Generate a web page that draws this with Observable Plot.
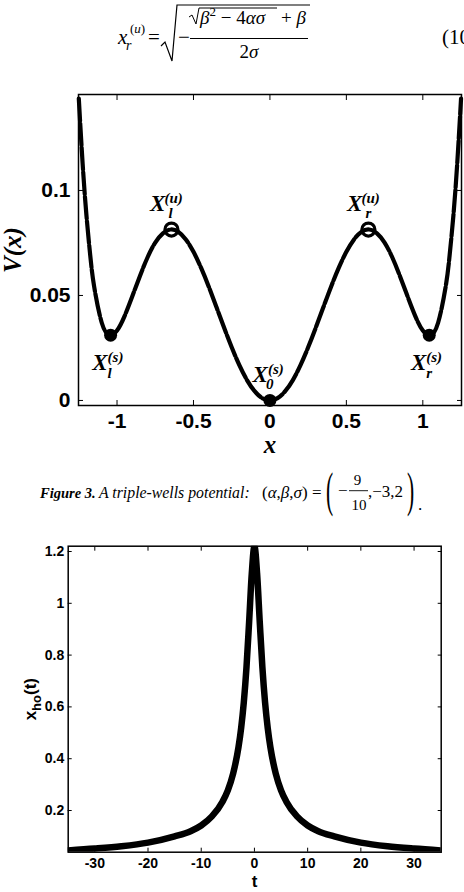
<!DOCTYPE html>
<html><head><meta charset="utf-8">
<script src="https://cdn.jsdelivr.net/npm/d3@7"></script>
<script src="https://cdn.jsdelivr.net/npm/@observablehq/plot@0.6"></script>
<style>
html,body{margin:0;padding:0;background:#fff;}
body{width:464px;height:892px;overflow:hidden;position:relative;}
.abs{position:absolute;left:0;}
#eq{top:0}
#c1{top:80px}
#cap{top:460px}
#c2{top:530px}
</style></head><body>
<svg id="eq" class="abs" width="464" height="70" font-family="'Liberation Serif','Times New Roman',serif" fill="#000">
  <text x="118" y="44" font-size="21" font-style="italic">x</text>
  <text x="130" y="33" font-size="13">(<tspan font-style="italic">u</tspan>)</text>
  <text x="126" y="50" font-size="14" font-style="italic">r</text>
  <text x="148" y="44" font-size="21">=</text>
  <path d="M161,46 L165,42 L172,61 L177,5 L310,5" fill="none" stroke="#000" stroke-width="1.2"/>
  <text x="178" y="44" font-size="21">−</text>
  <path d="M189,17 L192,15 L196,24 L199,8 L277,8" fill="none" stroke="#000" stroke-width="1"/>
  <text x="200" y="24" font-size="19"><tspan font-style="italic">β</tspan><tspan dy="-8" font-size="13">2</tspan><tspan dy="8"> − 4</tspan><tspan font-style="italic">ασ</tspan></text>
  <text x="281" y="24" font-size="19">+ <tspan font-style="italic">β</tspan></text>
  <line x1="190" x2="308" y1="38.5" y2="38.5" stroke="#000" stroke-width="1"/>
  <text x="249" y="58" font-size="19" text-anchor="middle">2<tspan font-style="italic">σ</tspan></text>
  <text x="442" y="44" font-size="21">(10</text>
</svg>
<div id="c1" class="abs"></div>
<svg id="cap" class="abs" width="464" height="68" font-family="'Liberation Serif','Times New Roman',serif" fill="#000">
  <text x="40" y="38" font-size="14.5" font-weight="bold" font-style="italic">Figure 3.</text>
  <text x="99" y="38" font-size="15.8" font-style="italic">A triple-wells potential:</text>
  <text x="262" y="38" font-size="17">(<tspan font-style="italic">α</tspan>,<tspan font-style="italic">β</tspan>,<tspan font-style="italic">σ</tspan>)</text>
  <text x="312" y="38" font-size="17">=</text>
  <text transform="translate(326,46) scale(0.45,1)" font-size="48">(</text>
  <text x="338" y="36" font-size="17">−</text>
  <text x="357.5" y="25" font-size="15" text-anchor="middle">9</text>
  <line x1="349" x2="368" y1="30.7" y2="30.7" stroke="#000" stroke-width="0.9"/>
  <text x="359" y="50" font-size="15" text-anchor="middle">10</text>
  <text x="368" y="37" font-size="17">,−3,2</text>
  <text transform="translate(407,46) scale(0.45,1)" font-size="48">)</text>
  <text x="418" y="50" font-size="17">.</text>
</svg>
<div id="c2" class="abs"></div>
<script>
// ---------- Figure 3 data: triple-well potential V(x) ----------
const xPos = [-1.25,-1.225,-1.2,-1.175,-1.15,-1.1,-1.05,-1,-0.95,-0.9,-0.85,-0.8,-0.75,-0.7,-0.65,-0.6,-0.55,-0.5,-0.45,-0.4,-0.35,-0.3,-0.25,-0.2,-0.15,-0.1,-0.05,0,
  0.05,0.1,0.15,0.2,0.25,0.3,0.35,0.4,0.45,0.5,0.55,0.6,0.65,0.7,0.75,0.8,0.85,0.9,0.95,1,1.05,1.1,1.15,1.175,1.2,1.225,1.25];
const vVals = [0.1437,0.1128,0.0881,0.0689,0.0544,0.0370,0.0312,0.0333,0.0403,0.0496,0.0593,0.0682,0.0752,0.0796,0.0814,0.0804,0.0767,0.0708,0.0631,0.0542,0.0445,0.0347,0.0253,0.0168,0.0097,0.0044,0.0011,0,
  0.0011,0.0044,0.0097,0.0168,0.0253,0.0347,0.0445,0.0542,0.0631,0.0708,0.0767,0.0804,0.0814,0.0796,0.0752,0.0682,0.0593,0.0496,0.0403,0.0333,0.0312,0.0370,0.0544,0.0689,0.0881,0.1128,0.1437];
const peakX = [-0.644, 0.644];
const peakV = [0.0814, 0.0814];
const wellX = [-1.042, 0, 1.042];
const wellV = [0.0311, 0, 0.0311];
const labelX = [-0.644, 0.644, -1.042, 1.042, 0];
const labelV = [0.0814, 0.0814, 0.0311, 0.0311, 0];
const labelSub = ["l", "r", "l", "r", "0"];
const labelSup = ["(u)", "(u)", "(s)", "(s)", "(s)"];
const labelKind = ["peak", "peak", "well", "well", "center"];
const xTicks1 = [-1, -0.5, 0, 0.5, 1];
const yTicks1 = [0, 0.05, 0.1];

// ---------- second figure data: x_ho(t) ----------
const tVals = [-35,-30,-25,-20,-15,-12,-10,-8,-6,-5,-4,-3,-2.5,-2,-1.5,-1,-0.5,0,0.5,1,1.5,2,2.5,3,4,5,6,8,10,12,15,20,25,30,35];
const xhoVals = [0.046,0.053,0.062,0.076,0.100,0.120,0.142,0.177,0.234,0.278,0.343,0.444,0.518,0.617,0.751,0.928,1.115,1.22,1.115,0.928,0.751,0.617,0.518,0.444,0.343,0.278,0.234,0.177,0.142,0.120,0.100,0.076,0.062,0.053,0.046];
const xTicks2 = [-30, -20, -10, 0, 10, 20, 30];
const yTicks2 = [0.2, 0.4, 0.6, 0.8, 1, 1.2];

const sans = "'Liberation Sans', Arial, Helvetica, sans-serif";
const serif = "'Liberation Serif', 'Times New Roman', serif";

const curve1 = xPos.map((x, i) => ({x, v: vVals[i]}));
const peaks = peakX.map((x, i) => ({x, v: peakV[i]}));
const wells = wellX.map((x, i) => ({x, v: wellV[i]}));
const labels = labelX.map((x, i) => ({x, v: labelV[i], sub: labelSub[i], sup: labelSup[i], kind: labelKind[i]}));

const labelOffsets = {
  peak:   {X: [-6, -19], sup: [-7, -27], sub: [-3, -12]},
  well:   {X: [-3, 35],  sup: [-3, 27],  sub: [-3, 43]},
  center: {X: [-2, -18], sup: [-2, -26], sub: [-4, -11]}
};
function labelMarks(kind) {
  const d = labels.filter(l => l.kind === kind);
  const o = labelOffsets[kind];
  const common = {x: "x", y: "v", fontFamily: serif, fontStyle: "italic", fontWeight: "bold", lineAnchor: "bottom", fill: "#000"};
  return [
    Plot.text(d, {...common, text: () => "X", textAnchor: "end", dx: o.X[0], dy: o.X[1], fontSize: 23}),
    Plot.text(d, {...common, text: "sup", textAnchor: "start", dx: o.sup[0], dy: o.sup[1], fontSize: 15}),
    Plot.text(d, {...common, text: "sub", textAnchor: "start", dx: o.sub[0], dy: o.sub[1], fontSize: 15})
  ];
}
function boxTicks(xt, yt, len) {
  return [
    Plot.axisX({ticks: xt, anchor: "bottom", tickSize: len, dy: -len, tickFormat: () => "", label: null}),
    Plot.axisX({ticks: xt, anchor: "top", tickSize: len, dy: len, tickFormat: () => "", label: null}),
    Plot.axisY({ticks: yt, anchor: "left", tickSize: len, dx: len, tickFormat: () => "", label: null}),
    Plot.axisY({ticks: yt, anchor: "right", tickSize: len, dx: -len, tickFormat: () => "", label: null})
  ];
}

const chart1 = Plot.plot({
  width: 464, height: 380,
  marginTop: 14, marginBottom: 55, marginLeft: 78, marginRight: 3,
  x: {domain: [-1.252, 1.253]},
  y: {domain: [-0.0024, 0.1457]},
  style: {fontFamily: sans, color: "#000", background: "#fff", overflow: "visible"},
  marks: [
    ...boxTicks(xTicks1, yTicks1, 5),
    Plot.axisX({ticks: xTicks1, anchor: "bottom", tickSize: 0, tickPadding: 8, tickFormat: d => String(d), fontSize: 21, fontWeight: "bold", label: null}),
    Plot.axisY({ticks: yTicks1, anchor: "left", tickSize: 0, tickPadding: 8, tickFormat: d => String(d), fontSize: 21, fontWeight: "bold", label: null}),
    Plot.line(curve1, {x: "x", y: "v", curve: "natural", stroke: "#000", strokeWidth: 4.2, strokeDasharray: "22,2.5"}),
    Plot.dot(peaks, {x: "x", y: "v", r: 6.5, stroke: "#000", strokeWidth: 3.2, fill: "none"}),
    Plot.dot(wells, {x: "x", y: "v", r: 6.5, fill: "#000", stroke: "none"}),
    ...labelMarks("peak"), ...labelMarks("well"), ...labelMarks("center"),
    Plot.text(["x"], {frameAnchor: "bottom", dy: 47, lineAnchor: "bottom", fontFamily: serif, fontStyle: "italic", fontWeight: "bold", fontSize: 25}),
    Plot.text(["V(x)"], {frameAnchor: "left", rotate: -90, dx: -66, textAnchor: "middle", lineAnchor: "middle", fontFamily: serif, fontStyle: "italic", fontWeight: "bold", fontSize: 25}),
    Plot.frame({stroke: "#000", strokeWidth: 1.5})
  ]
});
document.getElementById("c1").appendChild(chart1);

const data2 = tVals.map((t, i) => ({t, v: xhoVals[i]}));
const chart2 = Plot.plot({
  width: 464, height: 362,
  marginTop: 15.7, marginBottom: 40.3, marginLeft: 67.7, marginRight: 23.3,
  x: {domain: [-35, 35.1]},
  y: {domain: [0.039, 1.2205]},
  style: {fontFamily: sans, color: "#000", background: "#fff", overflow: "visible"},
  marks: [
    ...boxTicks(xTicks2, yTicks2, 4),
    Plot.axisX({ticks: xTicks2, anchor: "bottom", tickSize: 0, tickPadding: 6, tickFormat: d => String(d), fontSize: 14, fontWeight: "bold", label: null}),
    Plot.axisY({ticks: yTicks2, anchor: "left", tickSize: 0, tickPadding: 4, tickFormat: d => String(d), fontSize: 14, fontWeight: "bold", label: null}),
    Plot.line(data2, {x: "t", y: "v", curve: "monotone-x", stroke: "#000", strokeWidth: 6.5, clip: true}),
    Plot.text(["t"], {frameAnchor: "bottom", dy: 35, lineAnchor: "bottom", fontSize: 17, fontWeight: "bold"}),
    Plot.text(["xho(t)"], {frameAnchor: "left", rotate: -90, dx: -38, textAnchor: "middle", lineAnchor: "middle", fontSize: 17, fontWeight: "bold"}),
    Plot.frame({stroke: "#000", strokeWidth: 1.5})
  ]
});
chart2.querySelectorAll("text").forEach(t => {
  if (t.textContent === "xho(t)") {
    t.innerHTML = 'x<tspan font-size="13" dy="5">ho</tspan><tspan dy="-5">(t)</tspan>';
  }
});
document.getElementById("c2").appendChild(chart2);
</script>
</body></html>
